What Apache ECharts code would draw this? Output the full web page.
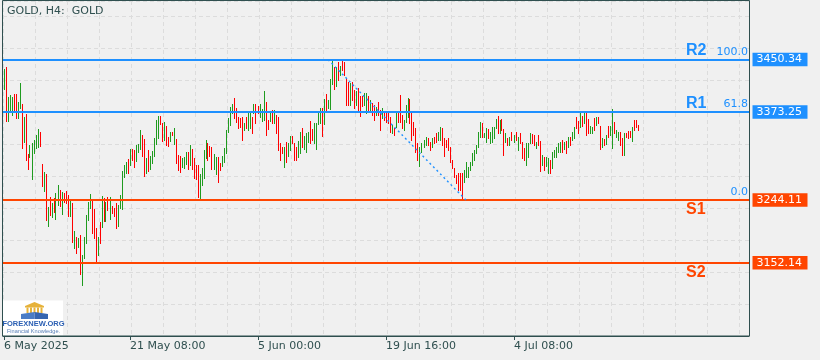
<!DOCTYPE html>
<html><head><meta charset="utf-8">
<script src="https://cdn.jsdelivr.net/npm/echarts@6/dist/echarts.min.js"></script>
<style>html,body{margin:0;padding:0;background:#f0f0f0}#c{width:820px;height:360px}</style>
</head><body><div id="c"></div>
<script>
const chartTitle = 'GOLD, H4:  GOLD';
const highs = [
3436.4,3439.4,3395.4,3398.3,3395.4,3399.8,3399.8,3388.0,3415.9,3385.1,
3366.0,3370.4,3311.7,3324.9,3327.8,3332.2,3339.6,3348.4,3344.0,3297.0,
3285.3,3282.3,3233.9,3248.6,3239.8,3247.1,3254.5,3266.2,3258.9,3255.9,
3254.5,3257.4,3251.5,3245.7,3239.8,3198.7,3189.9,3188.4,3192.8,3163.5,
3189.9,3222.2,3241.3,3253.0,3244.2,3231.0,3203.1,3189.9,3211.9,3250.1,
3247.1,3241.3,3248.6,3248.6,3235.4,3232.5,3239.8,3236.9,3251.5,3286.8,
3295.6,3300.0,3304.4,3319.0,3319.0,3317.6,3324.9,3326.4,3346.9,3339.6,
3333.7,3305.8,3317.6,3308.8,3316.1,3335.2,3361.6,3367.5,3367.5,3357.2,
3358.7,3352.8,3336.7,3344.0,3344.0,3349.9,3333.7,3310.2,3308.8,3305.8,
3307.3,3314.6,3314.6,3324.9,3319.0,3305.8,3295.6,3295.6,3282.3,3291.2,
3317.6,3332.2,3327.8,3323.4,3322.0,3311.7,3307.3,3307.3,3298.5,3308.8,
3320.5,3346.9,3364.5,3380.7,3385.1,3393.9,3379.2,3366.0,3364.5,3366.0,
3357.2,3366.0,3373.3,3374.8,3366.0,3385.1,3385.1,3382.1,3385.1,3377.7,
3404.1,3388.0,3361.6,3373.3,3376.3,3376.3,3368.9,3366.0,3327.8,3322.0,
3322.0,3329.3,3327.8,3338.1,3338.1,3327.8,3322.0,3330.8,3344.0,3349.9,
3338.1,3342.5,3344.0,3360.1,3348.4,3357.2,3357.2,3373.3,3379.2,3379.2,
3392.4,3399.8,3391.0,3421.8,3450.34,3439.4,3439.4,3446.7,3440.8,3448.0,
3446.7,3423.2,3417.4,3415.9,3417.4,3405.6,3404.1,3408.6,3396.8,3396.8,
3401.2,3401.2,3396.8,3391.0,3386.5,3383.6,3380.7,3388.0,3376.3,3379.2,
3373.3,3373.3,3371.9,3366.0,3354.3,3349.9,3373.3,3373.3,3398.3,3368.9,
3361.6,3383.6,3393.9,3392.4,3371.9,3358.7,3349.9,3327.8,3322.0,3327.8,
3332.2,3336.7,3335.2,3329.3,3335.2,3336.7,3342.5,3344.0,3351.3,3349.9,
3335.2,3332.2,3335.2,3322.0,3302.9,3291.2,3280.9,3283.8,3283.8,3283.8,
3288.2,3300.0,3292.6,3300.0,3313.2,3317.6,3324.9,3344.0,3358.7,3357.2,
3342.5,3349.9,3348.4,3344.0,3351.3,3351.3,3363.1,3367.5,3361.6,3363.1,
3348.4,3342.5,3335.2,3336.7,3344.0,3339.6,3344.0,3336.7,3342.5,3329.3,
3320.5,3327.8,3327.8,3342.5,3341.1,3339.6,3329.3,3339.6,3330.8,3310.2,
3307.3,3307.3,3305.8,3302.9,3314.6,3317.6,3322.0,3327.8,3329.3,3332.2,
3329.3,3330.8,3336.7,3336.7,3344.0,3351.3,3366.0,3360.1,3373.3,3367.5,
3373.3,3373.3,3363.1,3352.8,3351.3,3364.5,3366.0,3366.0,3352.8,3335.2,
3333.7,3339.6,3352.8,3352.8,3377.7,3358.7,3346.9,3344.0,3344.0,3335.2,
3342.5,3342.5,3345.5,3345.5,3351.3,3361.6,3361.6,3354.3
];
const lows = [
3405.6,3358.7,3358.7,3374.8,3367.5,3374.8,3363.1,3363.1,3377.7,3319.0,
3327.8,3301.4,3288.2,3305.8,3273.5,3311.7,3319.0,3320.5,3322.0,3263.3,
3255.9,3213.4,3204.6,3220.7,3217.8,3225.1,3214.9,3235.4,3233.9,3222.2,
3239.8,3238.3,3219.3,3219.3,3181.1,3172.3,3165.0,3173.8,3134.1,3118.0,
3157.6,3179.6,3213.4,3231.0,3194.3,3187.0,3151.7,3162.0,3179.6,3203.1,
3211.9,3211.9,3228.1,3214.9,3223.6,3219.3,3201.6,3204.6,3231.0,3229.5,
3276.5,3282.3,3282.3,3294.1,3301.4,3291.2,3300.0,3313.2,3317.6,3307.3,
3278.0,3282.3,3285.3,3288.2,3297.0,3307.3,3324.9,3333.7,3354.3,3329.3,
3330.8,3323.4,3322.0,3329.3,3338.1,3324.9,3297.0,3286.8,3283.8,3291.2,
3289.7,3295.6,3288.2,3294.1,3288.2,3275.0,3273.5,3247.1,3244.2,3264.7,
3275.0,3304.4,3301.4,3307.3,3288.2,3288.2,3280.9,3269.2,3286.8,3292.6,
3298.5,3311.7,3342.5,3352.8,3370.4,3363.1,3357.2,3348.4,3349.9,3330.8,
3345.5,3348.4,3345.5,3348.4,3341.1,3370.4,3355.7,3370.4,3364.5,3358.7,
3360.1,3338.1,3346.9,3358.7,3355.7,3355.7,3341.1,3316.1,3301.4,3311.7,
3291.2,3298.5,3307.3,3316.1,3326.4,3301.4,3301.4,3305.8,3311.7,3320.5,
3317.6,3313.2,3327.8,3326.4,3330.8,3326.4,3317.6,3354.3,3355.7,3336.7,
3354.3,3374.8,3377.7,3376.3,3413.0,3405.6,3410.0,3418.8,3426.2,3433.5,
3426.2,3382.1,3382.1,3382.1,3389.5,3377.7,3382.1,3374.8,3366.0,3380.7,
3382.1,3370.4,3374.8,3371.9,3367.5,3360.1,3367.5,3367.5,3345.5,3363.1,
3360.1,3357.2,3355.7,3342.5,3341.1,3338.1,3349.9,3357.2,3357.2,3348.4,
3345.5,3357.2,3364.5,3355.7,3330.8,3338.1,3313.2,3301.4,3292.6,3313.2,
3320.5,3323.4,3323.4,3316.1,3320.5,3326.4,3327.8,3330.8,3330.8,3323.4,
3307.3,3320.5,3316.1,3298.5,3289.7,3276.5,3267.7,3257.4,3257.4,3244.11,
3269.2,3276.5,3276.5,3286.8,3294.1,3301.4,3311.7,3320.5,3335.2,3335.2,
3335.2,3327.8,3333.7,3326.4,3327.8,3333.7,3348.4,3341.1,3341.1,3345.5,
3308.8,3327.8,3323.4,3323.4,3330.8,3327.8,3330.8,3316.1,3326.4,3304.4,
3301.4,3294.1,3305.8,3326.4,3326.4,3323.4,3319.0,3323.4,3285.3,3294.1,
3286.8,3292.6,3282.3,3282.3,3289.7,3305.8,3305.8,3313.2,3313.2,3313.2,
3317.6,3311.7,3320.5,3323.4,3330.8,3333.7,3348.4,3341.1,3349.9,3351.3,
3355.7,3338.1,3341.1,3341.1,3341.1,3345.5,3352.8,3355.7,3317.6,3320.5,
3323.4,3324.9,3335.2,3338.1,3319.0,3341.1,3335.2,3330.8,3323.4,3308.8,
3308.8,3335.2,3333.7,3335.2,3329.3,3345.5,3349.9,3345.5
];
// u = bullish bar, d = bearish bar
const dirs = (
'uduuudduud'+'udduuuuudd'+'udududuudu'+'dddudududu'+'uuuudddudu'+
'dududdduuu'+'uududduuud'+'duduuuuudd'+'uddududddu'+'uududdddu'+'u'+
'uuddduuddu'+'uuuuuddddd'+'uduududduu'+'uddududddd'+'uduuddduud'+
'uuudduuuud'+'uduuududud'+'dddudduddd'+'uududduddu'+'ddddududdd'+
'uuuddddduu'+'uuddudduud'+'dddddddddd'+'uuuuuuuuud'+'uuduuuudud'+
'dududududd'+'duuudduddu'+'duuduuuuud'+'ududuuddud'+'udduududdu'+
'duduuduudd'+'uddduddd').split('');
const totalSlots = 373;
const tickIndex = [0, 63, 127, 191, 255];
const tickLabels = ['6 May 2025', '21 May 08:00', '5 Jun 00:00', '19 Jun 16:00', '4 Jul 08:00'];
const levelNames = ['R2', 'R1', 'S1', 'S2'];
const levelPrices = [3450.34, 3373.25, 3244.11, 3152.14];
const fibLabels = ['100.0', '61.8', '0.0'];
const fibPrices = [3450.34, 3373.25, 3244.11];
const fibAnchorIndex = [162, 231];
const fibAnchorPrice = [3450.34, 3244.11];
const priceMin = 3044.6, priceMax = 3536.2;

const BLUE = '#1e90ff', RED = '#ff4500', UP = '#1f9b1f', DOWN = '#ff0000', AX = '#2f4f4f', GRIDC = '#dcdcdc';
const levelColors = [BLUE, BLUE, RED, RED];

const categories = [];
for (let i = 0; i < totalSlots; i++) {
  const k = tickIndex.indexOf(i);
  categories.push(k >= 0 ? tickLabels[k] : String(i));
}
const bars = highs.map((h, i) => [i, lows[i], h, dirs[i] === 'u' ? 1 : -1]);
const isTick = (i) => tickIndex.indexOf(i) >= 0;

const chart = echarts.init(document.getElementById('c'), null, {renderer: 'canvas'});
chart.setOption({
  animation: false,
  backgroundColor: '#f0f0f0',
  grid: {left: 3, right: 71, top: 1, bottom: 24, show: false, outerBoundsMode: 'none', containLabel: false},
  xAxis: {
    type: 'category', data: categories, boundaryGap: true,
    axisLine: {show: true, lineStyle: {color: AX, width: 1}},
    axisTick: {show: true, alignWithLabel: true, interval: isTick, length: 4, lineStyle: {color: AX}},
    axisLabel: {show: true, interval: isTick, align: 'left', color: AX, fontFamily: 'DejaVu Sans', fontSize: 11, margin: 5},
    splitLine: {show: true, interval: 15, lineStyle: {color: GRIDC, type: [4, 3], width: 1}}
  },
  yAxis: [
    {type: 'value', min: priceMin, max: priceMax, show: false, scale: true},
    {type: 'value', min: 0, max: 335, interval: 32, position: 'right',
     axisLine: {show: false}, axisTick: {show: false}, axisLabel: {show: false},
     splitLine: {show: true, lineStyle: {color: GRIDC, type: [4, 3], width: 1}}}
  ],
  series: [
    {
      type: 'custom', data: bars, yAxisIndex: 0, silent: true,
      encode: {x: 0, y: [1, 2]},
      renderItem: function (params, api) {
        const i = api.value(0);
        const top = api.coord([i, api.value(2)]);
        const bot = api.coord([i, api.value(1)]);
        return {type: 'rect',
          shape: {x: Math.floor(top[0]), y: Math.round(top[1]), width: 1, height: Math.max(1, Math.round(bot[1]) - Math.round(top[1]))},
          style: {fill: api.value(3) > 0 ? UP : DOWN}};
      },
      markLine: {
        silent: true, symbol: 'none', animation: false,
        label: {show: false},
        data: levelPrices.map((p, k) => ({yAxis: p, lineStyle: {color: levelColors[k], width: 2, type: 'solid'}}))
      }
    },
    {
      type: 'line', yAxisIndex: 0, silent: true, symbol: 'none', z: 5,
      data: [[fibAnchorIndex[0], fibAnchorPrice[0]], [fibAnchorIndex[1], fibAnchorPrice[1]]],
      lineStyle: {color: BLUE, width: 1.4, type: [2, 3]}
    }
  ]
});

const gfx = [];
gfx.push({type: 'rect', z: 100, shape: {x: 2.5, y: 0.5, width: 747, height: 335.5}, style: {fill: null, stroke: AX, lineWidth: 1}});
gfx.push({type: 'text', x: 7, y: 11.5, style: {text: chartTitle, font: '11px "DejaVu Sans"', fill: AX, verticalAlign: 'middle'}});
levelPrices.forEach((p, k) => {
  const py = chart.convertToPixel({yAxisIndex: 0}, p);
  const c = levelColors[k];
  gfx.push({type: 'rect', shape: {x: 752.5, y: py - 6.7, width: 55, height: 13.4}, style: {fill: c}});
  gfx.push({type: 'text', x: 756.5, y: py, style: {text: p.toFixed(2), font: '11px "DejaVu Sans"', fill: '#ffffff', verticalAlign: 'middle'}});
  const above = levelNames[k][0] === 'R';
  gfx.push({type: 'text', x: 686, y: above ? py - 8.5 : py + 9.4,
    style: {text: levelNames[k], font: 'bold 16px "Liberation Sans"', fill: c, verticalAlign: 'middle'}});
});
fibPrices.forEach((p, k) => {
  const py = chart.convertToPixel({yAxisIndex: 0}, p);
  gfx.push({type: 'text', x: 748, y: py - 7.6, style: {text: fibLabels[k], font: '11px "DejaVu Sans"', fill: BLUE, align: 'right', verticalAlign: 'middle'}});
});
// logo box
gfx.push({type: 'rect', shape: {x: 3, y: 300.5, width: 60, height: 35}, style: {fill: '#ffffff'}});
gfx.push({type: 'polygon', shape: {points: [[25, 306], [34.5, 302], [44, 306]]}, style: {fill: '#e6b23a'}});
gfx.push({type: 'rect', shape: {x: 25, y: 306, width: 19, height: 1.5}, style: {fill: '#e6b23a'}});
[26.5, 30, 33.5, 37, 40.5].forEach(cx => gfx.push({type: 'rect', shape: {x: cx, y: 307.5, width: 2, height: 5.5}, style: {fill: '#e6b23a'}}));
gfx.push({type: 'polygon', shape: {points: [[21, 314], [34.5, 312], [34.5, 319], [21, 319]]}, style: {fill: '#4a7cc6'}});
gfx.push({type: 'polygon', shape: {points: [[34.5, 312], [48, 314], [48, 319], [34.5, 319]]}, style: {fill: '#3565b0'}});
gfx.push({type: 'text', x: 33.5, y: 324, style: {text: 'FOREXNEW.ORG', font: 'bold 7.5px "Liberation Sans"', fill: '#2b5fb3', align: 'center', verticalAlign: 'middle'}});
gfx.push({type: 'text', x: 33.5, y: 331.5, style: {text: 'Financial Knowledge.', font: '5.6px "Liberation Sans"', fill: '#5a80b8', align: 'center', verticalAlign: 'middle'}});
chart.setOption({graphic: gfx});
</script></body></html>
